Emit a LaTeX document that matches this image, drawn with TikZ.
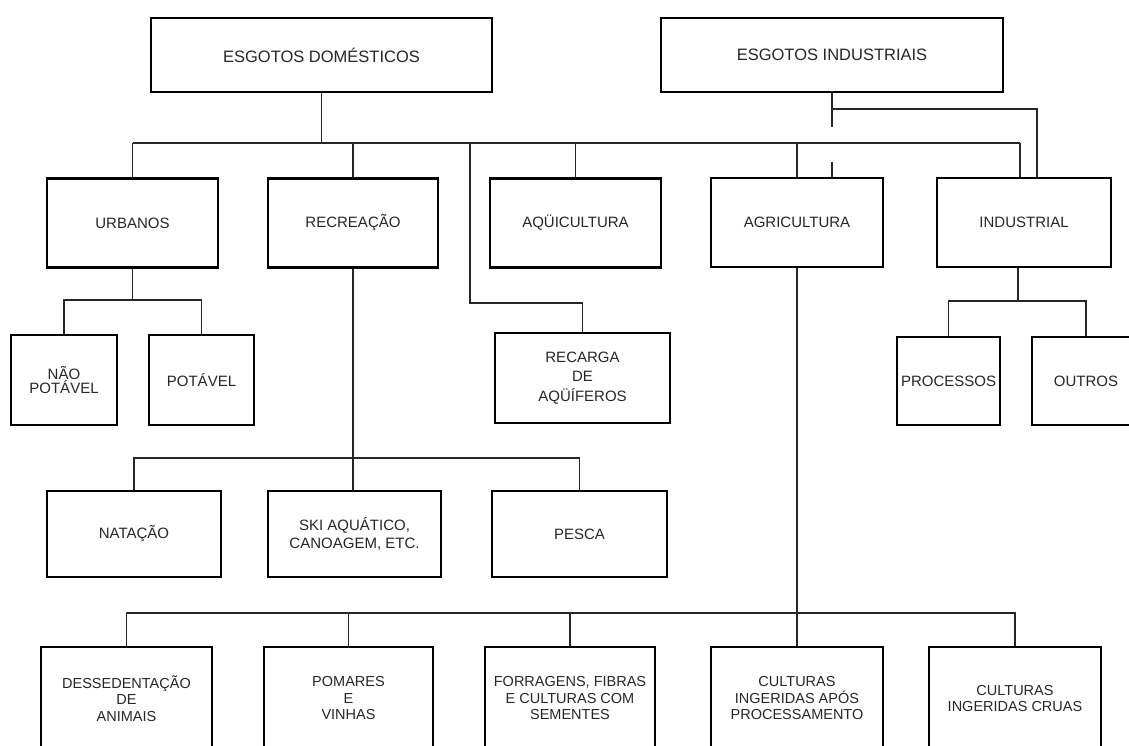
\documentclass[tikz,border=0pt]{standalone}
\usepackage{fontspec}
\setmainfont{Liberation Sans}
\begin{document}
\begin{tikzpicture}[x=1pt,y=-1pt,
  box/.style={draw, line width=2.6pt, inner sep=2pt, align=center,
    font=\fontsize{15}{16.5}\selectfont, text=black!85},
  topbox/.style={box, minimum width=341pt, minimum height=74pt,
    font=\fontsize{16.5}{18}\selectfont},
  midbox/.style={box, minimum width=171pt, minimum height=89pt},
  lowbox/.style={box, minimum height=103pt, font=\fontsize{14.5}{16.5}\selectfont},
  wire/.style={draw, line width=1.1pt, black!85}]
\useasboundingbox (0,0) rectangle (1129,746);
\fill[white] (0,0) rectangle (1129,746);
\clip (0,0) rectangle (1129,746);

% top level
\node[topbox] (dom) at (321.5,55) {ESGOTOS DOMÉSTICOS};
\node[topbox, minimum width=342pt] (ind) at (832,55) {ESGOTOS INDUSTRIAIS};

% second level
\node[midbox] (urb) at (132.5,223) {URBANOS};
\node[midbox, minimum width=170pt] (rec) at (353,223) {RECREAÇÃO};
\node[midbox] (aqu) at (575.5,223) {AQÜICULTURA};
\node[midbox, minimum width=172pt] (agr) at (797,222.5) {AGRICULTURA};
\node[midbox, minimum width=174pt] (indu) at (1024,222.5) {INDUSTRIAL};

% third level
\node[box, minimum width=106pt, minimum height=90pt] (nao) at (64,380) {NÃO\\[-2pt]POTÁVEL};
\node[box, minimum width=105pt, minimum height=90pt] (pot) at (201.5,380) {POTÁVEL};
\node[box, minimum width=175pt, minimum height=90pt] (rca) at (582.5,378) {RECARGA\\[3pt]DE\\[3pt]AQÜÍFEROS};
\node[box, minimum width=103pt, minimum height=88pt, inner sep=0pt] (proc) at (948.5,381) {PROCESSOS};
\node[box, minimum width=108pt, minimum height=88pt] (out) at (1086,381) {OUTROS};

% fourth level
\node[box, minimum width=174pt, minimum height=86pt] (nat) at (134,534) {NATAÇÃO};
\node[box, minimum width=173pt, minimum height=86pt] (ski) at (354.5,534) {SKI AQUÁTICO,\\[2pt]CANOAGEM, ETC.};
\node[box, minimum width=175pt, minimum height=86pt] (pes) at (579.5,534) {PESCA};

% bottom level
\node[lowbox, minimum width=171pt] (des) at (126.5,698.5) {DESSEDENTAÇÃO\\DE\\ANIMAIS};
\node[lowbox, minimum width=169pt] (pom) at (348.5,698.5) {POMARES\\E\\VINHAS};
\node[lowbox, minimum width=170pt, inner sep=0pt] (forr) at (570,698.5) {FORRAGENS, FIBRAS\\E CULTURAS COM\\SEMENTES};
\node[lowbox, minimum width=172pt] (capos) at (797,698.5) {CULTURAS\\INGERIDAS APÓS\\PROCESSAMENTO};
\node[lowbox, minimum width=172pt] (cru) at (1015,698.5) {CULTURAS\\INGERIDAS CRUAS};

% main bus
\coordinate (busL) at (132.5,143);
\coordinate (busR) at (1020,143);
\coordinate (busRec) at (470,143);
\coordinate (recTurn) at (470,303);
\path[wire] (dom.south) -- (dom.south |- busL);
\path[wire] (busL) -- (busR);
\path[wire] (urb.north) -- (urb.north |- busL);
\path[wire] (rec.north) -- (rec.north |- busL);
\path[wire] (aqu.north) -- (aqu.north |- busL);
\path[wire] (agr.north) -- (agr.north |- busL);
\path[wire] (busR) -- (busR |- indu.north);
\path[wire] (busRec) -- (recTurn) -| (rca.north);

% industrial sewage
\coordinate (indA) at (832,127);
\coordinate (indB) at (832,162);
\coordinate (indH) at (1037,109);
\path[wire] (ind.south) -- (indA);
\path[wire] (indB) -- (indB |- agr.north);
\path[wire] (ind.south |- indH) -- (indH) -- (indH |- indu.north);

% urbanos subtree
\coordinate (urbBus) at (132.5,300);
\path[wire] (urb.south) -- (urbBus);
\path[wire] (nao.north) |- (urbBus) -| (pot.north);

% recreação subtree
\coordinate (recBus) at (354,458);
\path[wire] (rec.south) -- (rec.south |- ski.north);
\path[wire] (nat.north) |- (recBus) -| (pes.north);

% industrial subtree
\coordinate (induBus) at (1018,301);
\path[wire] (indu.south -| induBus) -- (induBus);
\path[wire] (proc.north) |- (induBus) -| (out.north);

% agricultura subtree
\coordinate (agrBus) at (797,613);
\path[wire] (agr.south) -- (capos.north);
\path[wire] (des.north) |- (agrBus) -| (cru.north);
\path[wire] (pom.north) -- (pom.north |- agrBus);
\path[wire] (forr.north) -- (forr.north |- agrBus);
\end{tikzpicture}
\end{document}
